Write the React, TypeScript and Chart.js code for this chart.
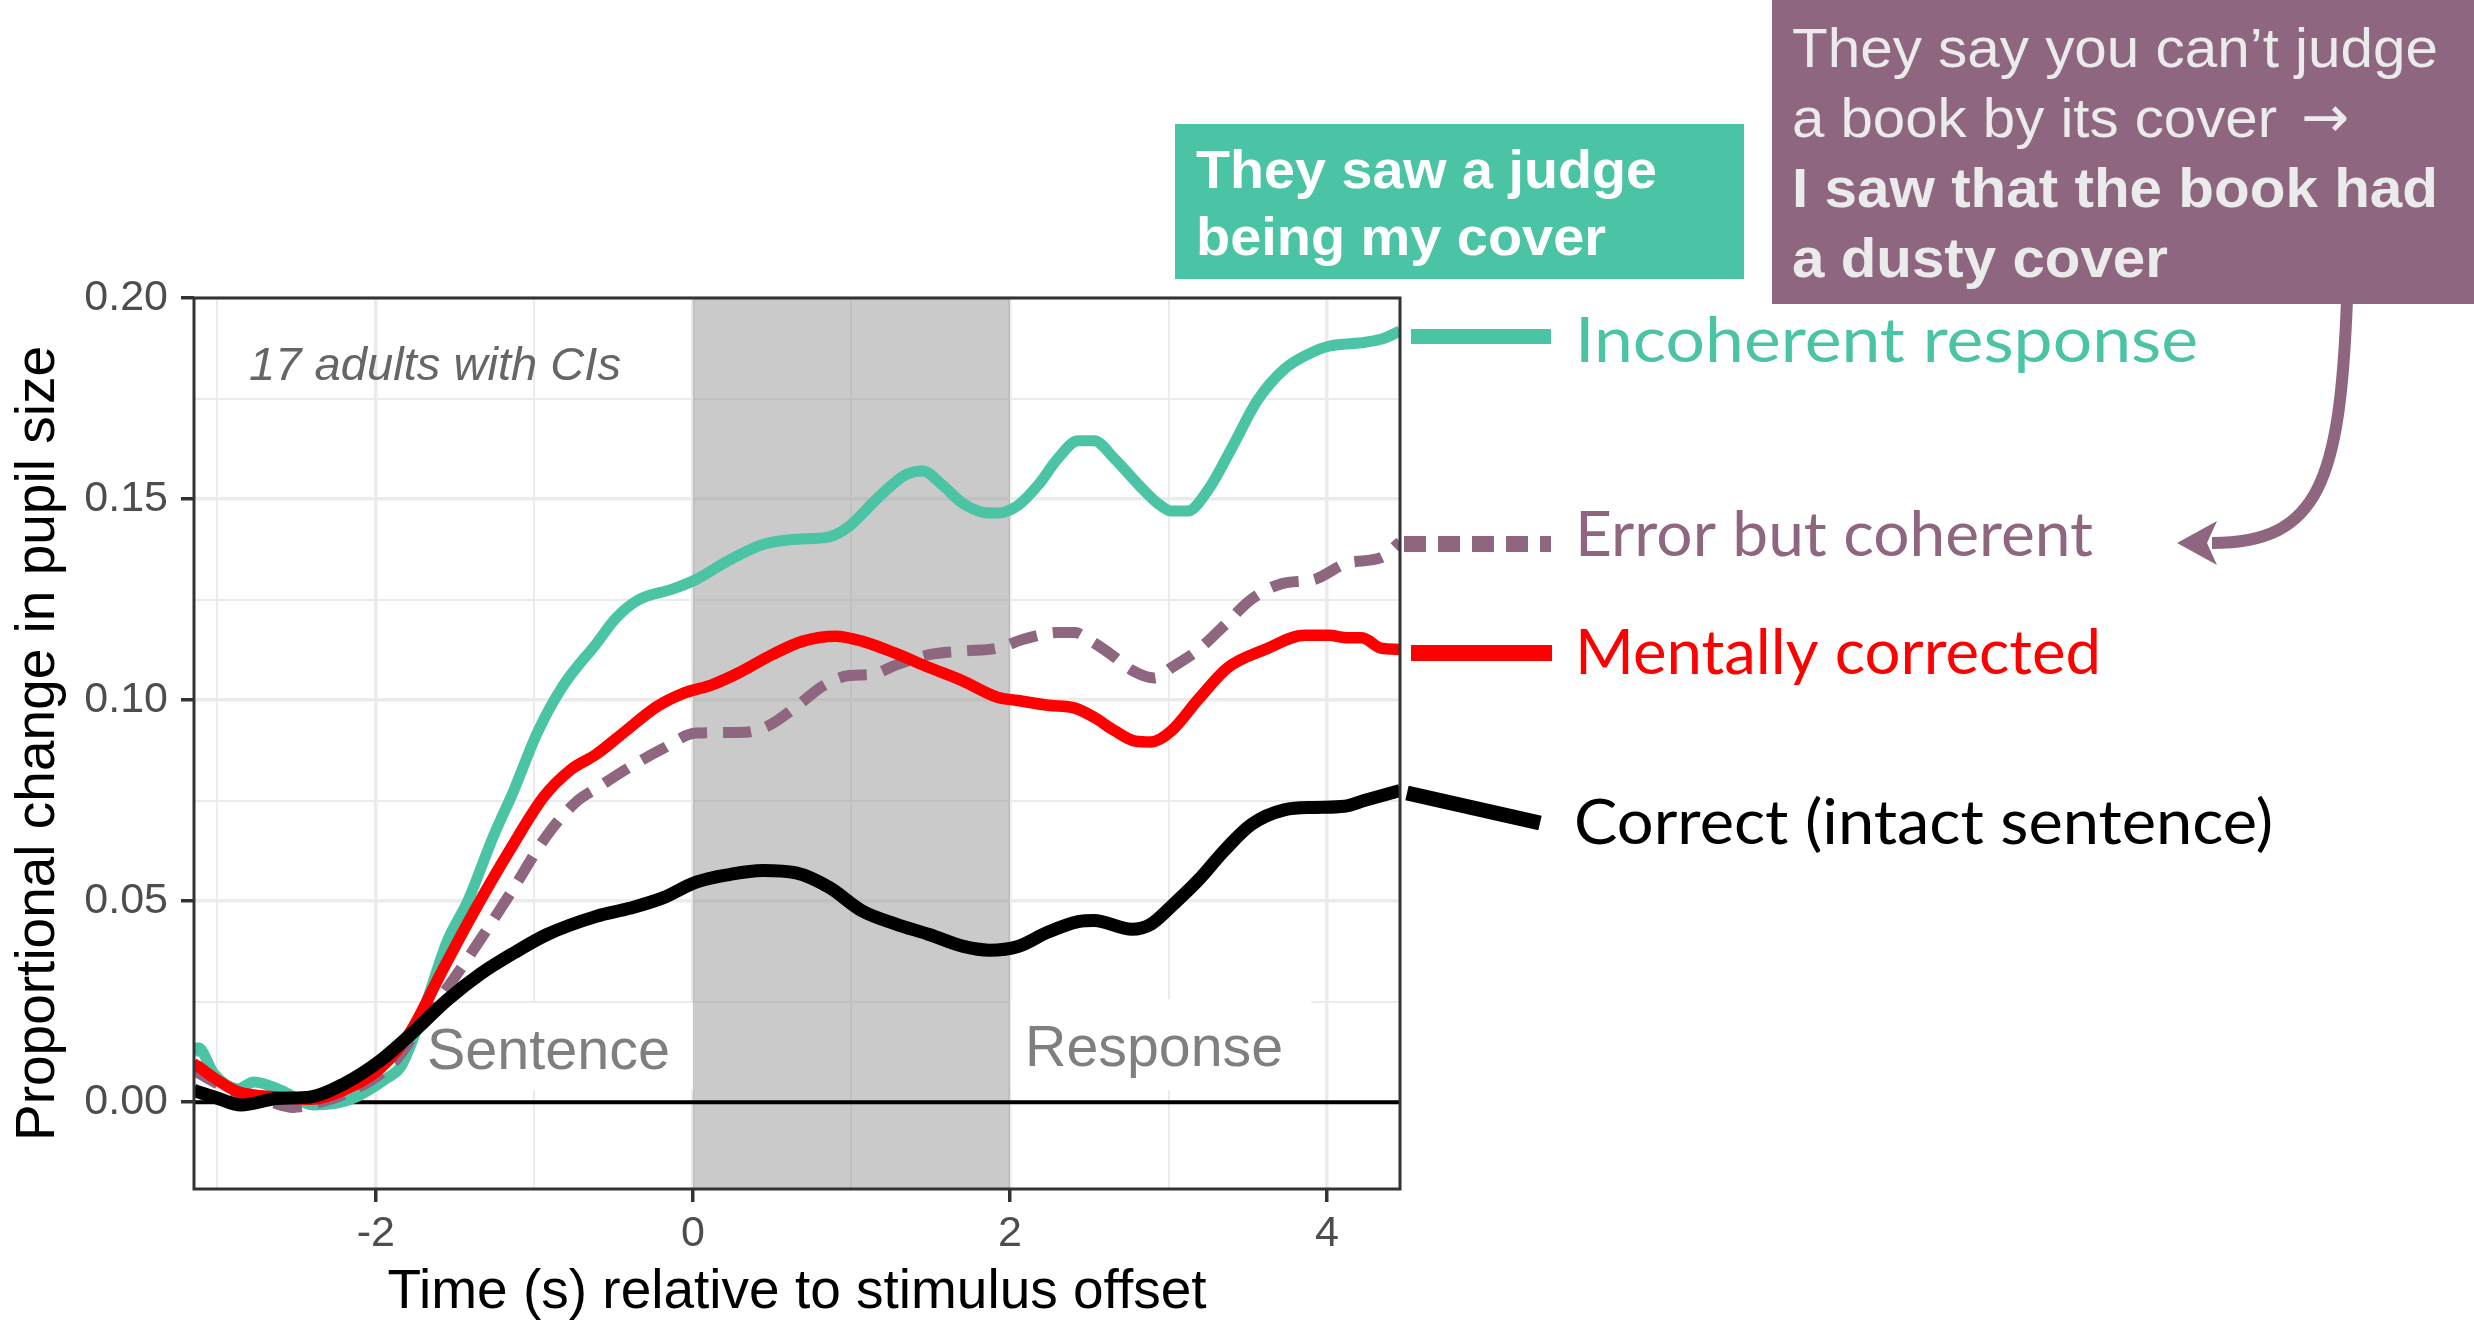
import React, { useEffect, useRef } from 'react';
import { Chart, registerables } from 'chart.js';

Chart.register(...registerables);

// ---------------- data ----------------
const X_MIN = -3.147;
const X_MAX = 4.46;
const Y_MIN = -0.0216;
const Y_MAX = 0.2;

const X_TICKS = [-3, -2, -1, 0, 1, 2, 3, 4];
const X_TICK_LABELS = ['', '-2', '', '0', '', '2', '', '4'];
const Y_TICKS = [0, 0.025, 0.05, 0.075, 0.1, 0.125, 0.15, 0.175, 0.2];
const Y_TICK_LABELS = ['0.00', '', '0.05', '', '0.10', '', '0.15', '', '0.20'];

const X_TITLE = 'Time (s) relative to stimulus offset';
const Y_TITLE = 'Proportional change in pupil size';

const SHADE_RANGE = [0, 2];

const INCOH_T = [-3.15, -3.12, -3.02, -2.87, -2.77, -2.6, -2.39, -2.16, -1.93, -1.84, -1.68, -1.55, -1.42, -1.26, -1.13, -0.98, -0.82, -0.61, -0.485, -0.34, -0.13, 0.02, 0.23, 0.44, 0.65, 0.86, 0.985, 1.17, 1.34, 1.45, 1.57, 1.7, 1.83, 1.92, 2.05, 2.18, 2.3, 2.43, 2.53, 2.66, 2.81, 2.93, 3.02, 3.12, 3.25, 3.4, 3.56, 3.73, 3.88, 4.01, 4.24, 4.36, 4.46];
const INCOH_V = [0.012, 0.0135, 0.007, 0.0033, 0.005, 0.003, -0.0007, 0.0007, 0.006, 0.009, 0.025, 0.04, 0.05, 0.066, 0.0775, 0.092, 0.1035, 0.114, 0.1204, 0.125, 0.1276, 0.13, 0.1348, 0.1387, 0.14, 0.1406, 0.1432, 0.1504, 0.156, 0.157, 0.1536, 0.149, 0.1467, 0.1465, 0.1484, 0.1536, 0.16, 0.1645, 0.1645, 0.16, 0.1536, 0.149, 0.147, 0.147, 0.1523, 0.1628, 0.1745, 0.1823, 0.186, 0.188, 0.189, 0.19, 0.1918];

const ERR_T = [-3.15, -3.02, -2.87, -2.7, -2.52, -2.35, -2.2, -1.89, -1.68, -1.51, -1.32, -1.15, -0.92, -0.73, -0.61, -0.4, -0.19, 0.02, 0.33, 0.48, 0.65, 0.82, 0.985, 1.13, 1.28, 1.49, 1.7, 1.92, 2.09, 2.3, 2.41, 2.49, 2.64, 2.77, 2.91, 3.02, 3.19, 3.35, 3.52, 3.71, 3.92, 4.13, 4.34, 4.46];
const ERR_V = [0.008, 0.005, 0.002, 0.0005, -0.0013, 0.0, 0.002, 0.0098, 0.0215, 0.0306, 0.0417, 0.052, 0.0664, 0.0749, 0.078, 0.0833, 0.0879, 0.0918, 0.092, 0.0937, 0.0983, 0.1035, 0.1061, 0.1064, 0.1087, 0.1113, 0.1122, 0.1129, 0.1152, 0.1168, 0.1168, 0.1152, 0.1113, 0.1074, 0.1055, 0.1081, 0.1126, 0.1185, 0.125, 0.1289, 0.13, 0.1341, 0.1354, 0.1393];

const MENT_T = [-3.15, -3.126, -3.02, -2.87, -2.62, -2.41, -2.2, -1.97, -1.78, -1.59, -1.4, -1.15, -0.94, -0.77, -0.61, -0.44, -0.23, -0.065, 0.12, 0.29, 0.5, 0.69, 0.9, 1.07, 1.28, 1.49, 1.7, 1.92, 2.05, 2.24, 2.41, 2.53, 2.66, 2.79, 2.89, 3.02, 3.19, 3.375, 3.61, 3.86, 4.01, 4.13, 4.22, 4.34, 4.46];
const MENT_V = [0.0095, 0.009, 0.006, 0.0026, 0.0013, 0.0007, 0.003, 0.0085, 0.0176, 0.032, 0.046, 0.063, 0.076, 0.0827, 0.0865, 0.0918, 0.0983, 0.1016, 0.1038, 0.1068, 0.1113, 0.1146, 0.1159, 0.1146, 0.1116, 0.1081, 0.1048, 0.1007, 0.0999, 0.0987, 0.098, 0.0957, 0.0924, 0.0898, 0.0896, 0.0924, 0.1003, 0.1081, 0.1126, 0.1161, 0.1161, 0.1155, 0.1155, 0.1129, 0.1126];

const CORR_T = [-3.15, -3.126, -3.02, -2.85, -2.62, -2.41, -2.2, -1.97, -1.76, -1.55, -1.34, -1.13, -0.92, -0.61, -0.4, -0.19, 0.02, 0.23, 0.44, 0.65, 0.86, 1.07, 1.28, 1.49, 1.7, 1.87, 2.05, 2.24, 2.43, 2.53, 2.77, 2.89, 3.02, 3.19, 3.35, 3.52, 3.73, 3.92, 4.11, 4.24, 4.46];
const CORR_V = [0.003, 0.0026, 0.0013, -0.0007, 0.0009, 0.0013, 0.0046, 0.0104, 0.0176, 0.0254, 0.0319, 0.0371, 0.0417, 0.0462, 0.0482, 0.0508, 0.0547, 0.0566, 0.0576, 0.057, 0.0534, 0.0475, 0.0443, 0.0417, 0.0388, 0.0378, 0.0387, 0.0423, 0.0449, 0.0452, 0.043, 0.0443, 0.0488, 0.0553, 0.0625, 0.069, 0.0727, 0.0733, 0.0736, 0.0751, 0.0775];

const SERIES_NAMES = ['Incoherent response', 'Error but coherent', 'Mentally corrected', 'Correct (intact sentence)'];

const NOTE_TEXT = '17 adults with CIs';
const PHASE_NAMES = ['Sentence', 'Response'];

const TEAL_BOX_LINES = ['They saw a judge', 'being my cover'];
const PURPLE_BOX_LINES = ['They say you can\u2019t judge', 'a book by its cover', 'I saw that the book had', 'a dusty cover'];
const ARROW_GLYPH = '\u2192';

// ---------------- styles ----------------
const TEAL = '#4BC3A5';
const PURPLE = '#8E6680';
const RED = '#FF0000';
const BLACK = '#000000';
const SANS = '"Liberation Sans", Arial, Helvetica, sans-serif';
const HUMAN = 'Lato, "Open Sans", sans-serif';

const W = 2474;
const H = 1326;

function near(a: number, b: number) {
  return Math.abs(a - b) < 1e-9;
}
function xIsMajor(v: number) {
  const i = X_TICKS.findIndex((t) => near(t, v));
  return i >= 0 && X_TICK_LABELS[i] !== '';
}
function yIsMajor(v: number) {
  const i = Y_TICKS.findIndex((t) => near(t, v));
  return i >= 0 && Y_TICK_LABELS[i] !== '';
}

function fitText(ctx: CanvasRenderingContext2D, text: string, x: number, y: number, font: string, color: string, width?: number) {
  ctx.save();
  ctx.font = font;
  ctx.fillStyle = color;
  ctx.textAlign = 'left';
  ctx.textBaseline = 'alphabetic';
  if (width) {
    const natural = ctx.measureText(text).width;
    ctx.translate(x, y);
    ctx.scale(width / natural, 1);
    ctx.fillText(text, 0, 0);
  } else {
    ctx.fillText(text, x, y);
  }
  ctx.restore();
}

const panelPlugin = {
  id: 'panelDecor',
  beforeDatasetsDraw(chart: any) {
    const { ctx, chartArea: a, scales } = chart;
    const xs = scales.x;
    const ys = scales.y;
    ctx.save();
    ctx.beginPath();
    ctx.rect(a.left, a.top, a.right - a.left, a.bottom - a.top);
    ctx.clip();

    // white label boxes for phase names
    ctx.fillStyle = '#FFFFFF';
    ctx.fillRect(xs.getPixelForValue(-1.767), ys.getPixelForValue(0.0246), xs.getPixelForValue(0.03) - xs.getPixelForValue(-1.767), ys.getPixelForValue(0.003) - ys.getPixelForValue(0.0246));
    ctx.fillRect(xs.getPixelForValue(2.006), ys.getPixelForValue(0.0256), xs.getPixelForValue(3.9) - xs.getPixelForValue(2.006), ys.getPixelForValue(0.003) - ys.getPixelForValue(0.0256));

    // grey shaded interval
    const x0 = xs.getPixelForValue(SHADE_RANGE[0]);
    const x1 = xs.getPixelForValue(SHADE_RANGE[1]);
    ctx.fillStyle = 'rgba(150,150,150,0.5)';
    ctx.fillRect(x0, a.top, x1 - x0, a.bottom - a.top);

    // zero line
    const y0 = ys.getPixelForValue(0);
    ctx.strokeStyle = '#000000';
    ctx.lineWidth = 4;
    ctx.beginPath();
    ctx.moveTo(a.left, y0);
    ctx.lineTo(a.right, y0);
    ctx.stroke();

    // phase labels
    fitText(ctx, PHASE_NAMES[0], xs.getPixelForValue(-1.678), ys.getPixelForValue(0.0082), `57px ${SANS}`, '#7F7F7F', 243);
    fitText(ctx, PHASE_NAMES[1], xs.getPixelForValue(2.095), ys.getPixelForValue(0.009), `57px ${SANS}`, '#7F7F7F', 258);

    // note
    fitText(ctx, NOTE_TEXT, xs.getPixelForValue(-2.8), ys.getPixelForValue(0.1796), `italic 46px ${SANS}`, '#666666', 372);
    ctx.restore();
  },
  afterDatasetsDraw(chart: any) {
    const { ctx, chartArea: a } = chart;
    ctx.save();
    ctx.strokeStyle = '#333333';
    ctx.lineWidth = 3;
    ctx.strokeRect(a.left, a.top, a.right - a.left, a.bottom - a.top);
    ctx.restore();
  },
  afterDraw(chart: any) {
    const { ctx } = chart;
    ctx.save();

    // legend keys
    ctx.lineCap = 'butt';
    ctx.strokeStyle = TEAL;
    ctx.lineWidth = 15;
    ctx.beginPath();
    ctx.moveTo(1411, 336.5);
    ctx.lineTo(1551, 336.5);
    ctx.stroke();

    ctx.strokeStyle = PURPLE;
    ctx.lineWidth = 16;
    ctx.setLineDash([22, 12]);
    ctx.beginPath();
    ctx.moveTo(1404, 544);
    ctx.lineTo(1551, 544);
    ctx.stroke();
    ctx.setLineDash([]);

    ctx.strokeStyle = RED;
    ctx.lineWidth = 16;
    ctx.beginPath();
    ctx.moveTo(1411, 653);
    ctx.lineTo(1552, 653);
    ctx.stroke();

    ctx.strokeStyle = BLACK;
    ctx.lineWidth = 15;
    ctx.beginPath();
    ctx.moveTo(1407, 793);
    ctx.lineTo(1540, 823);
    ctx.stroke();

    // legend texts
    fitText(ctx, SERIES_NAMES[0], 1575, 362, `61px ${HUMAN}`, TEAL, 623);
    fitText(ctx, SERIES_NAMES[1], 1575, 556, `61px ${HUMAN}`, PURPLE, 518);
    fitText(ctx, SERIES_NAMES[2], 1575, 673.6, `61px ${HUMAN}`, RED, 526);
    fitText(ctx, SERIES_NAMES[3], 1574, 844, `61px ${HUMAN}`, BLACK, 699);

    // teal callout
    ctx.fillStyle = TEAL;
    ctx.fillRect(1175, 124, 569, 155);
    fitText(ctx, TEAL_BOX_LINES[0], 1196, 188, `bold 54px ${SANS}`, '#FFFFFF', 461);
    fitText(ctx, TEAL_BOX_LINES[1], 1196, 255, `bold 54px ${SANS}`, '#FFFFFF', 410);

    // purple callout
    ctx.fillStyle = PURPLE;
    ctx.fillRect(1772, 0, W - 1772, 304);
    fitText(ctx, PURPLE_BOX_LINES[0], 1792, 67, `56px ${SANS}`, '#EBEBEB', 646);
    fitText(ctx, PURPLE_BOX_LINES[1], 1792, 137, `56px ${SANS}`, '#EBEBEB', 485);
    fitText(ctx, ARROW_GLYPH, 2301, 137, `58px "DejaVu Sans", sans-serif`, '#EBEBEB', 48);
    fitText(ctx, PURPLE_BOX_LINES[2], 1792, 207, `bold 56px ${SANS}`, '#EBEBEB', 646);
    fitText(ctx, PURPLE_BOX_LINES[3], 1792, 277, `bold 56px ${SANS}`, '#EBEBEB', 376);

    // curved arrow
    ctx.strokeStyle = PURPLE;
    ctx.lineWidth = 12;
    ctx.lineCap = 'butt';
    ctx.beginPath();
    ctx.moveTo(2347, 300);
    ctx.bezierCurveTo(2340, 480, 2320, 543, 2212, 543);
    ctx.stroke();
    ctx.fillStyle = PURPLE;
    ctx.beginPath();
    ctx.moveTo(2177, 543);
    ctx.lineTo(2217, 521);
    ctx.lineTo(2207, 543);
    ctx.lineTo(2217, 565);
    ctx.closePath();
    ctx.fill();

    ctx.restore();
  },
};

function series(label: string, T: number[], V: number[], color: string, width: number, dash: number[]) {
  return {
    label,
    data: T.map((t, i) => ({ x: t, y: V[i] })),
    borderColor: color,
    backgroundColor: color,
    borderWidth: width,
    borderDash: dash,
    borderCapStyle: 'butt',
    borderJoinStyle: 'round',
    pointRadius: 0,
    pointHoverRadius: 0,
    cubicInterpolationMode: 'monotone',
    fill: false,
    clip: 0,
  };
}

export default function App() {
  const ref = useRef<HTMLCanvasElement | null>(null);

  useEffect(() => {
    document.body.style.margin = '0';
    document.body.style.overflow = 'hidden';
    const canvas = ref.current;
    if (!canvas) return;

    const chart = new Chart(canvas, {
      type: 'line',
      data: {
        datasets: [
          series(SERIES_NAMES[3], CORR_T, CORR_V, BLACK, 13, []),
          series(SERIES_NAMES[2], MENT_T, MENT_V, RED, 11.5, []),
          series(SERIES_NAMES[1], ERR_T, ERR_V, PURPLE, 11, [28, 16]),
          series(SERIES_NAMES[0], INCOH_T, INCOH_V, TEAL, 11, []),
        ] as any,
      },
      options: {
        animation: false,
        responsive: false,
        devicePixelRatio: 1,
        events: [],
        layout: { padding: { left: 0, top: 298, right: W - 1400, bottom: 0 } },
        plugins: {
          legend: { display: false },
          tooltip: { enabled: false },
        },
        scales: {
          x: {
            type: 'linear',
            min: X_MIN,
            max: X_MAX,
            afterBuildTicks: (s: any) => {
              s.ticks = X_TICKS.map((v) => ({ value: v }));
            },
            afterFit: (s: any) => {
              s.height = H - 1189;
            },
            border: { display: false },
            grid: {
              color: '#EBEBEB',
              lineWidth: (c: any) => (c.tick && xIsMajor(c.tick.value) ? 3.5 : 2),
              drawTicks: true,
              tickLength: 13,
              tickWidth: 3.5,
              tickColor: (c: any) => (c.tick && xIsMajor(c.tick.value) ? '#333333' : 'rgba(0,0,0,0)'),
            },
            ticks: {
              autoSkip: false,
              maxRotation: 0,
              minRotation: 0,
              padding: 6,
              color: '#4D4D4D',
              font: { family: SANS, size: 43 },
              callback: (v: any) => {
                const i = X_TICKS.findIndex((t) => near(t, Number(v)));
                return i >= 0 ? X_TICK_LABELS[i] : '';
              },
            },
            title: {
              display: true,
              text: X_TITLE,
              color: '#000000',
              font: { family: SANS, size: 55 },
              padding: { top: 0, bottom: 0 },
            },
          },
          y: {
            type: 'linear',
            min: Y_MIN,
            max: Y_MAX,
            afterBuildTicks: (s: any) => {
              s.ticks = Y_TICKS.map((v) => ({ value: v }));
            },
            afterFit: (s: any) => {
              s.width = 194;
            },
            border: { display: false },
            grid: {
              color: '#EBEBEB',
              lineWidth: (c: any) => (c.tick && yIsMajor(c.tick.value) ? 3.5 : 2),
              drawTicks: true,
              tickLength: 13,
              tickWidth: 3.5,
              tickColor: (c: any) => (c.tick && yIsMajor(c.tick.value) ? '#333333' : 'rgba(0,0,0,0)'),
            },
            ticks: {
              autoSkip: false,
              padding: 13,
              color: '#4D4D4D',
              font: { family: SANS, size: 43 },
              callback: (v: any) => {
                const i = Y_TICKS.findIndex((t) => near(t, Number(v)));
                return i >= 0 ? Y_TICK_LABELS[i] : '';
              },
            },
            title: {
              display: true,
              text: Y_TITLE,
              color: '#000000',
              font: { family: SANS, size: 55 },
              padding: { top: 6, bottom: 0 },
            },
          },
        },
      } as any,
      plugins: [panelPlugin as any],
    });

    return () => {
      chart.destroy();
    };
  }, []);

  return (
    <div style={{ width: W, height: H, position: 'relative', background: '#FFFFFF' }}>
      <style>{'html,body{margin:0;padding:0;overflow:hidden;background:#fff;}'}</style>
      <canvas ref={ref} width={W} height={H} style={{ display: 'block', width: W, height: H }} />
    </div>
  );
}
